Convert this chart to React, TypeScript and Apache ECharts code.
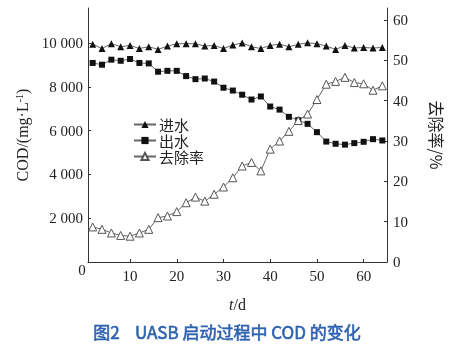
import React, { useEffect, useRef } from "react";
import * as echarts from "echarts";

const days = [2, 4, 6, 8, 10, 12, 14, 16, 18, 20, 22, 24, 26, 28, 30, 32, 34, 36, 38, 40, 42, 44, 46, 48, 50, 52, 54, 56, 58, 60, 62, 64];
const influent = [9950, 9750, 9970, 9830, 9890, 9750, 9830, 9710, 9860, 9970, 9970, 9970, 9860, 9890, 9750, 9910, 10000, 9830, 9750, 9890, 9950, 9830, 9940, 10010, 9970, 9860, 9710, 9890, 9770, 9800, 9770, 9800];
const effluent = [9090, 9010, 9240, 9190, 9270, 9090, 9070, 8690, 8730, 8730, 8490, 8350, 8380, 8240, 7960, 7830, 7640, 7420, 7560, 7100, 6960, 6630, 6480, 6310, 5930, 5500, 5400, 5360, 5430, 5490, 5610, 5550];
const removal = [8.7, 8.1, 7.2, 6.6, 6.4, 7.2, 8.1, 11.0, 11.4, 12.5, 14.7, 16.1, 15.1, 16.8, 18.6, 20.9, 23.8, 24.7, 22.6, 28.0, 30.0, 32.4, 35.1, 36.7, 40.3, 44.1, 44.8, 45.8, 44.5, 44.2, 42.6, 43.7];
const xTicks = [10, 20, 30, 40, 50, 60];
const leftTicks = [0, 2000, 4000, 6000, 8000, 10000];
const leftLabels = [2000, 4000, 6000, 8000, 10000];
const rightTicks = [0, 10, 20, 30, 40, 50, 60];
const seriesNames = ["进水", "出水", "去除率"];
const titleText = "图2    UASB 启动过程中 COD 的变化";

export default function App() {
  const ref = useRef<HTMLDivElement>(null);
  useEffect(() => {
    const chart = echarts.init(ref.current!, null, { renderer: "svg" });
    const serif = "'Liberation Serif', 'Times New Roman', serif";
    const cjk = "'Noto Sans CJK SC', sans-serif";
    const axisColor = "#333";
    const textColor = "#222";
    const pair = (vals: number[]) => days.map((d, i) => [d, vals[i]]);
    chart.setOption({
      animation: false,
      grid: { left: 88, right: 71, top: 8, bottom: 85 },
      xAxis: {
        type: "value",
        min: 1,
        max: 65,
        axisLine: { lineStyle: { color: axisColor, width: 1 } },
        axisTick: { inside: true, length: 3, customValues: xTicks, lineStyle: { color: axisColor } },
        axisLabel: { customValues: xTicks, fontFamily: serif, fontSize: 15, color: textColor, margin: 6 },
        splitLine: { show: false },
        name: "{i|t}/d",
        nameLocation: "middle",
        nameGap: 34,
        nameTextStyle: {
          fontFamily: serif,
          fontSize: 16,
          color: textColor,
          rich: { i: { fontStyle: "italic", fontFamily: serif, fontSize: 16, color: textColor } },
        },
      },
      yAxis: [
        {
          type: "value",
          min: 0,
          max: 11600,
          axisLine: { show: true, lineStyle: { color: axisColor, width: 1 } },
          axisTick: { show: true, inside: true, length: 3, customValues: leftTicks, lineStyle: { color: axisColor } },
          axisLabel: {
            customValues: leftLabels,
            fontFamily: serif,
            fontSize: 15,
            color: textColor,
            margin: 5,
            formatter: (v: number) => {
              const s = String(v);
              return s.length > 3 ? s.slice(0, s.length - 3) + " " + s.slice(-3) : s;
            },
          },
          splitLine: { show: false },
          name: "COD/(mg·L{s|-1})",
          nameLocation: "middle",
          nameGap: 58,
          nameRotate: 90,
          nameTextStyle: {
            fontFamily: serif,
            fontSize: 16,
            color: textColor,
            rich: { s: { fontFamily: serif, fontSize: 10, verticalAlign: "top", color: textColor, padding: [0, 0, 6, 0] } },
          },
        },
        {
          type: "value",
          min: 0,
          max: 63,
          position: "right",
          axisLine: { show: true, lineStyle: { color: axisColor, width: 1 } },
          axisTick: { show: true, inside: true, length: 3, customValues: rightTicks, lineStyle: { color: axisColor } },
          axisLabel: { customValues: rightTicks, fontFamily: serif, fontSize: 15, color: textColor, margin: 6 },
          splitLine: { show: false },
          name: "去除率/%",
          nameLocation: "middle",
          nameGap: 42,
          nameRotate: -90,
          nameTextStyle: { fontFamily: cjk, fontSize: 16, color: textColor },
        },
      ],
      legend: {
        orient: "vertical",
        left: 133,
        top: 117,
        padding: 0,
        itemWidth: 22,
        itemHeight: 9,
        itemGap: 1,
        data: seriesNames,
        textStyle: { fontFamily: cjk, fontSize: 15, color: textColor, lineHeight: 15, padding: [0, 0, 0, -2] },
      },
      series: [
        {
          name: seriesNames[0],
          type: "line",
          data: pair(influent),
          symbol: "triangle",
          symbolSize: 7,
          itemStyle: { color: "#111" },
          lineStyle: { color: "#666", width: 1 },
        },
        {
          name: seriesNames[1],
          type: "line",
          data: pair(effluent),
          symbol: "rect",
          symbolSize: 6,
          itemStyle: { color: "#111" },
          lineStyle: { color: "#666", width: 1 },
        },
        {
          name: seriesNames[2],
          type: "line",
          yAxisIndex: 1,
          data: pair(removal),
          symbol: "triangle",
          symbolSize: 8,
          itemStyle: { color: "#fff", borderColor: "#555", borderWidth: 1 },
          lineStyle: { color: "#666", width: 1 },
        },
      ],
      graphic: [
        {
          type: "text",
          x: 82,
          y: 270,
          style: { text: "0", fontFamily: serif, fontSize: 15, fill: textColor, align: "center", verticalAlign: "middle" },
        },
        {
          type: "text",
          x: 227,
          y: 331,
          style: {
            text: titleText,
            fontFamily: cjk,
            fontSize: 17,
            fontWeight: "normal",
            fill: "#2f63b0",
            stroke: "#2f63b0",
            lineWidth: 0.6,
            align: "center",
            verticalAlign: "middle",
          },
        },
      ],
    });
    return () => chart.dispose();
  }, []);
  return <div ref={ref} style={{ position: "fixed", left: 0, top: 0, width: 458, height: 347 }} />;
}
